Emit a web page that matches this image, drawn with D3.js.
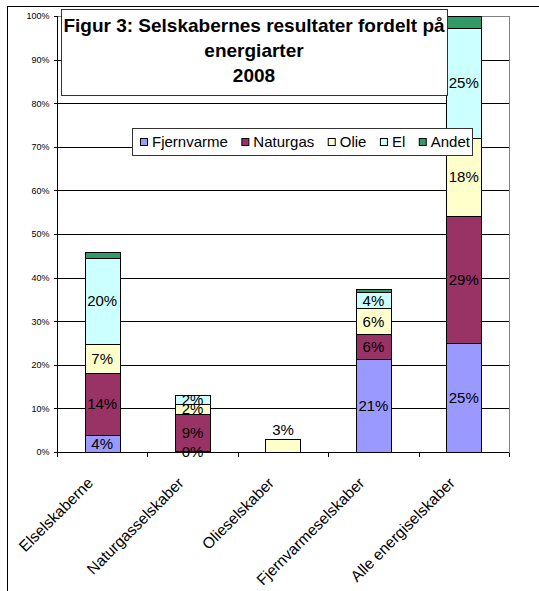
<!DOCTYPE html>
<html lang="da">
<meta charset="utf-8">
<style>
body { margin: 0; background: #fff; }
svg { display: block; font-family: "Liberation Sans", Arial, sans-serif; }
.axis path, .axis line { stroke: #000; shape-rendering: crispEdges; }
.axis text { fill: #000; }
</style>
<body>
<svg width="539" height="591"></svg>
<script src="https://d3js.org/d3.v7.min.js"></script>
<script>

var categories = ["Elselskaberne", "Naturgasselskaber", "Olieselskaber", "Fjernvarmeselskaber", "Alle energiselskaber"];
var seriesNames = ["Fjernvarme", "Naturgas", "Olie", "El", "Andet"];

// shares in percent
var fjernvarme = [3.8, 0.2, 0, 21.3, 25.0];
var naturgas   = [14.4, 8.6, 0, 5.7, 29.1];
var olie       = [6.6, 2.3, 2.9, 6.0, 18.0];
var el         = [19.7, 2.0, 0, 3.6, 25.2];
var andet      = [1.4, 0, 0, 0.9, 2.7];

var yTicks = [0, 10, 20, 30, 40, 50, 60, 70, 80, 90, 100];
var titleLines = ["Figur 3: Selskabernes resultater fordelt på", "energiarter", "2008"];

var colors = ["#9999ff", "#993366", "#ffffcc", "#ccffff", "#339966"];

var svg = d3.select("svg");

var rows = categories.map(function(c, i) {
  return { cat: c, Fjernvarme: fjernvarme[i], Naturgas: naturgas[i], Olie: olie[i], El: el[i], Andet: andet[i] };
});

var plotLeft = 57, plotRight = 509, plotTop = 16, plotBottom = 452;

var x = d3.scaleBand().domain(categories).range([plotLeft, plotRight]);
var xEdges = d3.scaleLinear().domain([0, categories.length]).range([plotLeft, plotRight]);
var y = d3.scaleLinear().domain([0, 100]).range([plotBottom, plotTop]);
var color = d3.scaleOrdinal().domain(seriesNames).range(colors);

// outer chart frame
svg.append("rect")
    .attr("x", 7.5).attr("y", 6.5)
    .attr("width", 600).attr("height", 600)
    .attr("fill", "none").attr("stroke", "#000");

// plot area border
svg.append("rect")
    .attr("x", plotLeft + 0.5).attr("y", plotTop + 0.5)
    .attr("width", plotRight - plotLeft).attr("height", plotBottom - plotTop)
    .attr("fill", "none").attr("stroke", "#808080")
    .attr("shape-rendering", "crispEdges");

// gridlines
svg.append("g")
  .selectAll("line")
  .data(yTicks.filter(function(d) { return d > 0 && d < 100; }))
  .enter().append("line")
    .attr("x1", plotLeft).attr("x2", plotRight)
    .attr("y1", function(d) { return Math.round(y(d)) + 0.5; })
    .attr("y2", function(d) { return Math.round(y(d)) + 0.5; })
    .attr("stroke", "#000")
    .attr("shape-rendering", "crispEdges");

var stack = d3.stack().keys(seriesNames)(rows);

var bw = x.bandwidth() * 0.39;

var layer = svg.append("g")
  .selectAll("g")
  .data(stack)
  .enter().append("g")
    .attr("fill", function(d) { return color(d.key); });

layer.selectAll("rect")
  .data(function(d) { return d.filter(function(p) { return p[1] - p[0] > 0; }); })
  .enter().append("rect")
    .attr("x", function(d) { return Math.round(x(d.data.cat) + x.bandwidth() / 2 - bw / 2) + 0.5; })
    .attr("width", Math.round(bw))
    .attr("y", function(d) { return Math.round(y(d[1])) + 0.5; })
    .attr("height", function(d) { return Math.max(1, Math.round(y(d[0])) - Math.round(y(d[1]))); })
    .attr("stroke", "#000")
    .attr("stroke-width", 1);

// data labels (not for Andet)
stack.forEach(function(s) {
  if (s.key === "Andet") return;
  s.forEach(function(d) {
    var v = d[1] - d[0];
    if (v <= 0) return;
    var n = seriesNames.reduce(function(a, k) { return a + (d.data[k] > 0 ? 1 : 0); }, 0);
    var h = y(d[0]) - y(d[1]);
    var above = n === 1 && h < 16;
    svg.append("text")
        .attr("x", x(d.data.cat) + x.bandwidth() / 2)
        .attr("y", above ? y(d[1]) - 4 : (y(d[0]) + y(d[1])) / 2)
        .attr("dy", above ? 0 : "0.36em")
        .attr("text-anchor", "middle")
        .attr("font-size", 15)
        .attr("fill", "#000")
        .text(Math.round(v) + "%");
  });
});

// y axis
svg.append("g")
    .attr("class", "axis")
    .attr("transform", "translate(" + (plotLeft + 0.5) + ",0)")
    .call(d3.axisLeft(y).tickValues(yTicks).tickSize(4).tickPadding(4)
      .tickFormat(function(d) { return d + "%"; }))
    .call(function(g) { g.selectAll("text").attr("font-size", 9).attr("font-family", null); })
    .call(function(g) { g.select(".domain").attr("d", "M0," + plotBottom + "V" + plotTop); });

// x axis
svg.append("g")
    .attr("class", "axis")
    .attr("transform", "translate(0," + (plotBottom + 0.5) + ")")
    .call(d3.axisBottom(xEdges).ticks(categories.length).tickSize(4).tickFormat(""))
    .call(function(g) { g.select(".domain").attr("d", "M" + plotLeft + ",0H" + plotRight); });

svg.append("g")
  .selectAll("text")
  .data(categories)
  .enter().append("text")
    .attr("transform", function(d) {
      return "translate(" + (x(d) + x.bandwidth() / 2 - 8) + "," + 484 + ") rotate(-45)";
    })
    .attr("text-anchor", "end")
    .attr("font-size", 15.5)
    .attr("fill", "#000")
    .text(function(d) { return d; });

// title box
var tb = svg.append("g");
tb.append("rect")
    .attr("x", 61.5).attr("y", 9.5)
    .attr("width", 386).attr("height", 86)
    .attr("fill", "#fff").attr("stroke", "#333");
tb.selectAll("text")
  .data(titleLines)
  .enter().append("text")
    .attr("x", 254)
    .attr("y", function(d, i) { return 32 + i * 25; })
    .attr("text-anchor", "middle")
    .attr("font-size", 19)
    .attr("font-weight", "bold")
    .attr("fill", "#000")
    .text(function(d) { return d; });

// legend
var lg = svg.append("g");
lg.append("rect")
    .attr("x", 132.5).attr("y", 128.5)
    .attr("width", 340).attr("height", 27)
    .attr("fill", "#fff").attr("stroke", "#333");

var lx = 140;
seriesNames.forEach(function(k) {
  lg.append("rect")
      .attr("x", lx + 0.5).attr("y", 138.5)
      .attr("width", 7).attr("height", 7)
      .attr("fill", color(k)).attr("stroke", "#000");
  var t = lg.append("text")
      .attr("x", lx + 12).attr("y", 147)
      .attr("font-size", 15)
      .attr("fill", "#000")
      .text(k);
  lx += 12 + t.node().getComputedTextLength() + 13.5;
});

</script>
</body>
</html>
